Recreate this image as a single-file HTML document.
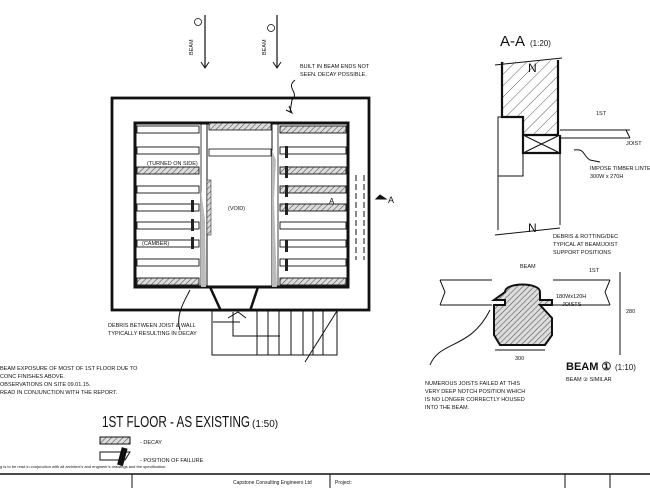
<!DOCTYPE html>
<html><head><meta charset="utf-8"><style>
html,body{margin:0;padding:0;background:#fff;}
svg{display:block;}
text{font-family:"Liberation Sans",sans-serif;fill:#111;}
</style></head><body>
<svg width="650" height="488" viewBox="0 0 650 488" xmlns="http://www.w3.org/2000/svg">
<defs>
<pattern id="h" width="4" height="4" patternUnits="userSpaceOnUse" patternTransform="rotate(45)"><rect width="4" height="4" fill="#ddd"/><line x1="0" y1="0" x2="0" y2="4" stroke="#555" stroke-width="1.2"/></pattern>
<pattern id="h2" width="8" height="8" patternUnits="userSpaceOnUse" patternTransform="rotate(45)"><line x1="0" y1="0" x2="0" y2="8" stroke="#333" stroke-width="0.8"/></pattern>
</defs>
<g stroke="#111" fill="none">
<line x1="205" y1="15" x2="205" y2="67" stroke-width="1.2"/><path d="M201 62 L205 68 L209 62" />
<line x1="277" y1="15" x2="277" y2="67" stroke-width="1.2"/><path d="M273 62 L277 68 L281 62"/>
<circle cx="198" cy="22" r="3.5" stroke-width="0.8"/><circle cx="271" cy="28" r="3.5" stroke-width="0.8"/>
<path d="M295 80 C285 88 300 92 292 100 L290 112"/>
<path d="M286 110 L292 113 L289 106" stroke-width="1"/>
<rect x="112" y="98" width="257" height="212" stroke-width="2.8"/>
<rect x="135" y="123" width="213" height="164" stroke-width="3"/>
<line x1="207" y1="123" x2="207" y2="287" stroke-width="1"/>
<line x1="272" y1="123" x2="272" y2="287" stroke-width="1"/>
<line x1="201" y1="123" x2="201" y2="287" stroke-width="0.8"/>
<line x1="278" y1="123" x2="278" y2="287" stroke-width="0.8"/>
<rect x="209" y="123" width="62" height="7" fill="url(#h)" stroke-width="0.8"/>
<rect x="209" y="149" width="62" height="7" stroke-width="0.8"/>
<rect x="207" y="180" width="4" height="55" fill="url(#h)" stroke-width="0.5"/>
<path d="M272 150 L276 160 L274 200 L277 287 L272 287Z" fill="#bbb" stroke="none"/>
<path d="M201 190 L205 220 L206 287 L201 287Z" fill="#bbb" stroke="none"/>
</g>
<g stroke="#111" fill="#fff" stroke-width="0.9">
<rect x="137" y="126" width="62" height="7"/>
<rect x="137" y="147" width="62" height="7"/>
<rect x="137" y="167" width="62" height="7" fill="url(#h)"/>
<rect x="137" y="186" width="62" height="7"/>
<rect x="137" y="204" width="62" height="7"/>
<rect x="137" y="222" width="62" height="7"/>
<rect x="137" y="240" width="62" height="7"/>
<rect x="137" y="259" width="62" height="7"/>
<rect x="137" y="278" width="62" height="7" fill="url(#h)"/>
<rect x="280" y="126" width="66" height="7" fill="url(#h)"/>
<rect x="280" y="147" width="66" height="7"/>
<rect x="280" y="167" width="66" height="7" fill="url(#h)"/>
<rect x="280" y="186" width="66" height="7" fill="url(#h)"/>
<rect x="280" y="204" width="66" height="7" fill="url(#h)"/>
<rect x="280" y="222" width="66" height="7"/>
<rect x="280" y="240" width="66" height="7"/>
<rect x="280" y="259" width="66" height="7"/>
<rect x="280" y="278" width="66" height="7" fill="url(#h)"/>
</g>
<g fill="#222">
<rect x="191" y="200" width="3" height="12"/><rect x="191" y="219" width="3" height="12"/><rect x="191" y="237" width="3" height="12"/>
<rect x="285" y="146" width="3" height="12"/><rect x="285" y="166" width="3" height="12"/><rect x="285" y="185" width="3" height="12"/><rect x="285" y="203" width="3" height="12"/><rect x="285" y="240" width="3" height="12"/><rect x="285" y="259" width="3" height="12"/>
</g>
<g stroke="#111" fill="none">
<path d="M210 287 L221 311 M258 287 L250 311" stroke-width="2.5"/>
<rect x="212" y="311" width="125" height="44" stroke-width="1"/>
<path d="M257 311 V355 M268 311 V355 M279 311 V355 M291 311 V355 M303 311 V355 M313 311 V355 M323 311 V355"/>
<path d="M213 322 H240 M233 312 V336 H280"/>
<path d="M337 311 L305 362"/>
<path d="M228 318 L238 312 L246 318"/>
<path d="M356 175 V260" stroke-dasharray="6 3"/><path d="M364 175 V260" stroke-dasharray="6 3"/>
<path d="M376 199 H386 L380 195 Z" fill="#111"/>
<path d="M180 330 C175 315 185 300 190 290"/>
<line x1="495" y1="65" x2="562" y2="58"/>
<path d="M502 62 V117 H523 V135 H558 V60" stroke-width="2.2" fill="url(#h2)"/>
<path d="M523 135 V153 H560 V135" stroke-width="2.2"/>
<path d="M525 136 L558 152 M558 136 L525 152"/>
<rect x="498" y="117" width="25" height="59"/>
<path d="M498 176 V230 M560 153 V225 M495 235 L560 228"/>
<path d="M560 130 H630 M560 138 H630 M626 130 L630 138"/>
<path d="M574 150 C585 148 583 156 590 160 L600 162"/>
<path d="M440 280 H492 M440 305 H492 M440 280 L445 292 L440 305 M553 280 H610 M553 305 H610 M610 280 L605 292 L610 305" stroke-width="1"/>
<path d="M505 292 C505 282 540 282 540 292 V300 H552 V305 H540 L552 318 V335 L545 345 H500 L494 335 V305 H505 V300 H494 Z" fill="url(#h)" stroke-width="2"/>
<line x1="620" y1="272" x2="620" y2="355"/>
<line x1="495" y1="350" x2="545" y2="350"/>
<path d="M430 365 C440 340 470 350 490 310"/>
<rect x="100" y="437" width="30" height="7" fill="url(#h)"/>
<path d="M100 452 H130 L125 460 H100 Z"/>
<rect x="120" y="448" width="5" height="17" fill="#111" transform="rotate(15 122 456)"/>
<line x1="0" y1="474" x2="650" y2="474" stroke-width="1.5"/>
<path d="M132 474 V488 M330 474 V488 M565 474 V488 M610 474 V488"/>
</g>
<g font-size="5.5">
<text x="193" y="55" transform="rotate(-90 193 55)">BEAM</text>
<text x="266" y="55" transform="rotate(-90 266 55)">BEAM</text>
<text x="300" y="68">BUILT IN BEAM ENDS NOT</text>
<text x="300" y="76">SEEN. DECAY POSSIBLE.</text>
<text x="147" y="165">(TURNED ON SIDE)</text>
<text x="142" y="245">(CAMBER)</text>
<text x="228" y="210">(VOID)</text>
<text x="108" y="327">DEBRIS BETWEEN JOIST &amp; WALL</text>
<text x="108" y="335">TYPICALLY RESULTING IN DECAY</text>
<text x="0" y="370">BEAM EXPOSURE OF MOST OF 1ST FLOOR DUE TO</text>
<text x="0" y="378">CONC FINISHES ABOVE.</text>
<text x="0" y="386">OBSERVATIONS ON SITE 09.01.15.</text>
<text x="0" y="394">READ IN CONJUNCTION WITH THE REPORT.</text>
<text x="596" y="115">1ST</text>
<text x="626" y="145">JOIST</text>
<text x="590" y="170">IMPOSE TIMBER LINTEL</text>
<text x="590" y="178">300W x 270H</text>
<text x="553" y="238">DEBRIS &amp; ROTTING/DEC</text>
<text x="553" y="246">TYPICAL AT BEAM/JOIST</text>
<text x="553" y="254">SUPPORT POSITIONS</text>
<text x="520" y="268">BEAM</text>
<text x="589" y="272">1ST</text>
<text x="556" y="298">180Wx120H</text>
<text x="562" y="306">JOISTS</text>
<text x="626" y="313">280</text>
<text x="515" y="360">300</text>
<text x="425" y="385">NUMEROUS JOISTS FAILED AT THIS</text>
<text x="425" y="393">VERY DEEP NOTCH POSITION WHICH</text>
<text x="425" y="401">IS NO LONGER CORRECTLY HOUSED</text>
<text x="425" y="409">INTO THE BEAM.</text>
<text x="566" y="381">BEAM ② SIMILAR</text>
<text x="140" y="444">- DECAY</text>
<text x="140" y="462">- POSITION OF FAILURE</text>
<text x="0" y="468" font-size="4">g is to be read in conjunction with all architect's and engineer's drawings and the specification.</text>
</g>
<text x="335" y="484" font-size="5">Project:</text>
<text x="233" y="484" font-size="5">Capstone Consulting Engineers Ltd</text>
<text x="500" y="46" font-size="15">A-A</text><text x="530" y="46" font-size="8">(1:20)</text>
<text x="566" y="370" font-size="11" font-weight="bold">BEAM ①</text><text x="615" y="370" font-size="8">(1:10)</text>
<text x="102" y="427" font-size="16" textLength="148" lengthAdjust="spacingAndGlyphs">1ST FLOOR - AS EXISTING</text><text x="252" y="427" font-size="10">(1:50)</text>
<text x="528" y="72" font-size="12">N</text><text x="528" y="232" font-size="12">N</text>
<text x="388" y="203" font-size="9">A</text>
<text x="329" y="204" font-size="8">A</text>
</svg>
</body></html>
